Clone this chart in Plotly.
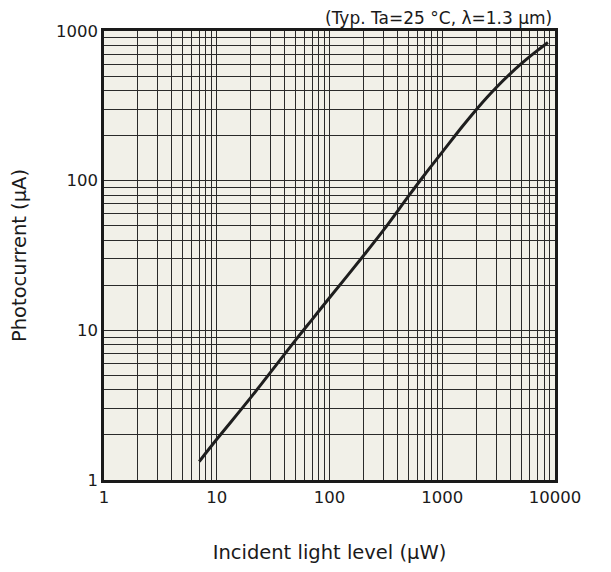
import plotly.graph_objects as go

# Curve data (incident light µW -> photocurrent µA)
light_uW = [7, 10, 20, 50, 70, 100, 200, 300, 500, 700, 1000, 1500, 2000, 2500, 3000,
            4000, 5000, 6000, 7000, 8650]
current_uA = [1.33, 1.87, 3.55, 8.6, 11.8, 16.5, 31.5, 46.5, 78.5, 110, 155, 229, 298, 361, 418,
              517, 602, 676, 742, 838]

# Tick positions and labels
x_decades = [1, 10, 100, 1000, 10000]
x_labels = ["1", "10", "100", "1000", "10000"]
y_decades = [1, 10, 100, 1000]
y_labels = ["1", "10", "100", "1000"]


def grid_vals(decades, labels):
    vals, texts = [], []
    for d, lab in zip(decades, labels):
        for m in range(1, 10):
            v = d * m
            if v > decades[-1]:
                break
            vals.append(v)
            texts.append(lab if m == 1 else "")
    return vals, texts


xv, xt = grid_vals(x_decades, x_labels)
yv, yt = grid_vals(y_decades, y_labels)

font_family = "DejaVu Sans, Verdana, sans-serif"

fig = go.Figure()
fig.add_trace(go.Scatter(
    x=light_uW, y=current_uA, mode="lines",
    line=dict(color="#1e1e1e", width=3, shape="spline", smoothing=1.0),
    hoverinfo="skip", showlegend=False,
))

fig.update_layout(
    width=603, height=564,
    margin=dict(l=96, r=56, t=23, b=92),
    paper_bgcolor="white",
    plot_bgcolor="#f1f0e8",
    font=dict(family=font_family, size=16, color="#1a1a1a"),
    xaxis=dict(
        type="log", range=[0, 4], automargin=False,
        tickmode="array", tickvals=xv, ticktext=xt,
        showgrid=True, gridcolor="#2a2a2a", gridwidth=1,
        showline=True, linecolor="#1a1a1a", linewidth=2.5, mirror=True,
        ticks="", zeroline=False,
        title=dict(text="Incident light level (μW)", font=dict(size=19.5), standoff=40),
        tickfont=dict(size=16.5),
    ),
    yaxis=dict(
        type="log", range=[0, 3], automargin=False,
        tickmode="array", tickvals=yv, ticktext=yt,
        showgrid=True, gridcolor="#2a2a2a", gridwidth=1,
        showline=True, linecolor="#1a1a1a", linewidth=2.5, mirror=True,
        ticks="", zeroline=False,
        title=dict(text="Photocurrent (μA)", font=dict(size=19.5), standoff=28),
        tickfont=dict(size=16.5),
    ),
    annotations=[dict(
        text="(Typ. Ta=25 °C, λ=1.3 μm)",
        xref="paper", yref="paper", x=1.0, y=1.0,
        xanchor="right", yanchor="bottom", yshift=1, xshift=-1,
        showarrow=False, font=dict(size=17, color="#1a1a1a"),
    )],
)

fig.write_html("out.html")
